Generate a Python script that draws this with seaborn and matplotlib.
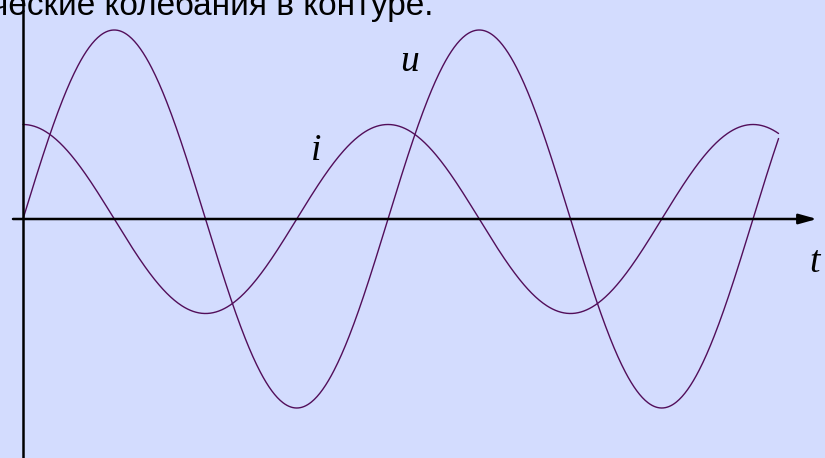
import numpy as np
import pandas as pd
import matplotlib
matplotlib.use("Agg")
import matplotlib.pyplot as plt
import seaborn as sns

# Oscillation parameters (voltage leads as sine, current as cosine)
u_amplitude = 1.0
i_amplitude = 0.5
n_periods = 2.07
series_names = ["u", "i"]
axis_label = "t"
heading = "ческие колебания в контуре."

BG = "#d3dcfe"
CURVE = "#520e5a"

sns.set_theme(style="white", rc={"axes.facecolor": BG, "figure.facecolor": BG})

W, H, DPI = 825, 458, 100
fig = plt.figure(figsize=(W / DPI, H / DPI), dpi=DPI)
ax = fig.add_axes([0, 0, 1, 1])
ax.set_facecolor(BG)

# pixel layout of the axes origin and scale
x0_px, y0_px = 23, 219
period_px = 365.0
amp_px = 189.0
px_per_rad = period_px / (2 * np.pi)

t = np.linspace(0, n_periods * 2 * np.pi, 800)
df = pd.DataFrame({
    "t": np.concatenate([t, t]),
    "value": np.concatenate([u_amplitude * np.sin(t), i_amplitude * np.cos(t)]),
    "series": np.repeat(series_names, len(t)),
})

sns.lineplot(data=df, x="t", y="value", hue="series",
             palette={"u": CURVE, "i": CURVE}, linewidth=1.0,
             legend=False, ax=ax, estimator=None, sort=False)

ax.set_xlim(-x0_px / px_per_rad, (W - x0_px) / px_per_rad)
ax.set_ylim(-(H - y0_px) / amp_px, y0_px / amp_px)
ax.axis("off")

# coordinate axes
ax.axvline(0, color="black", lw=1.8, zorder=5)
ax.annotate("", xy=(794 / px_per_rad, 0), xytext=(-10 / px_per_rad, 0),
            arrowprops=dict(arrowstyle="-|>,head_length=0.9,head_width=0.25",
                            color="black", lw=1.8, shrinkA=0, shrinkB=0),
            zorder=5)

# curve and axis labels
lab = dict(family="Liberation Serif", style="italic", fontsize=27,
           color="black", ha="center", va="baseline")
ax.text((410 - x0_px) / px_per_rad, (y0_px - 71) / amp_px, series_names[0], **lab)
ax.text((316 - x0_px) / px_per_rad, (y0_px - 160) / amp_px, series_names[1], **lab)
ax.text((815 - x0_px) / px_per_rad, (y0_px - 272) / amp_px, axis_label, **lab)

fig.text(-9 / W, 1 - 15 / H, heading, family="Liberation Sans",
         fontsize=24, color="black", ha="left", va="baseline")

fig.savefig("out.png", dpi=DPI, facecolor=BG)
